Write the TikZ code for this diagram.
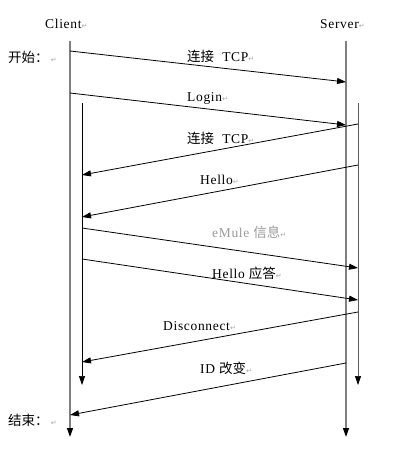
\documentclass[tikz,border=0pt]{standalone}
\usepackage{fontspec}
\setmainfont{Liberation Serif}[LetterSpace=5]
\newfontfamily\cjk{Noto Sans CJK SC}
\newfontfamily\symfont{DejaVu Sans}
\definecolor{lnGray}{HTML}{808080}
\definecolor{pmGray}{HTML}{A6A6A6}
\definecolor{txGray}{HTML}{9A9A9A}
\newcommand{\pmark}{{\symfont\color{pmGray}\fontsize{7}{8}\selectfont ↵}}
\usetikzlibrary{arrows.meta}

\begin{document}
\begin{tikzpicture}[x=1pt,y=-1pt,font=\fontsize{13.5}{15}\selectfont,
  tip/.style={-{Triangle[width=6pt,length=9pt,color=black]}},
  life/.style={tip,draw=lnGray,line width=1.4pt},
  sublife/.style={tip,draw=black,line width=0.7pt},
  msg/.style={tip,draw=black,line width=0.8pt},
  lbl/.style={anchor=west,inner sep=0pt}]
\path[use as bounding box] (0,0) rectangle (403,452);
% lifelines
\coordinate (cTop)  at (70,41);  \coordinate (cEnd)  at (70,437);
\coordinate (sTop)  at (346,41); \coordinate (sEnd)  at (346,437);
\coordinate (ciTop) at (82,103); \coordinate (ciEnd) at (82,385);
\coordinate (siTop) at (358,103);\coordinate (siEnd) at (358,385);
\draw[life] (cTop) -- (cEnd);
\draw[life] (sTop) -- (sEnd);
\draw[sublife] (ciTop) -- (ciEnd);
\draw[sublife,draw=lnGray!70!black] (siTop) -- (siEnd);
\node[lbl] (client) at (45,24) {Client\pmark};
\node[lbl] (server) at (320,24) {Server\pmark};
\node[lbl] (start) at (8,57) {{\cjk 开始：}\,\pmark};
\node[lbl] (stop) at (8,420) {{\cjk 结束：}\,\pmark};
% message end points
\coordinate (m1a) at (70,51);   \coordinate (m1b) at (346,82);
\coordinate (m2a) at (70,93);   \coordinate (m2b) at (346,125);
\coordinate (m3a) at (358,124); \coordinate (m3b) at (82,175);
\coordinate (m4a) at (358,165); \coordinate (m4b) at (82,217);
\coordinate (m5a) at (82,228);  \coordinate (m5b) at (358,268);
\coordinate (m6a) at (82,259);  \coordinate (m6b) at (358,300);
\coordinate (m7a) at (358,312); \coordinate (m7b) at (82,362);
\coordinate (m8a) at (346,363); \coordinate (m8b) at (70,415);
\foreach \m in {1,...,8}{\draw[msg] (m\m a) -- (m\m b);}
% message labels
\node[lbl] (t1) at (187,56)  {{\cjk 连接}\ \ TCP\pmark};
\node[lbl] (t2) at (187,98)  {Login\pmark};
\node[lbl] (t3) at (187,138) {{\cjk 连接}\ \ TCP\pmark};
\node[lbl] (t4) at (200,180) {Hello\pmark};
\node[lbl,text=txGray] (t5) at (212,232) {eMule {\cjk 信息}\pmark};
\node[lbl] (t6) at (212,273) {Hello {\cjk 应答}\pmark};
\node[lbl] (t7) at (163,326) {Disconnect\pmark};
\node[lbl] (t8) at (200,368) {ID {\cjk 改变}\pmark};
\end{tikzpicture}
\end{document}
